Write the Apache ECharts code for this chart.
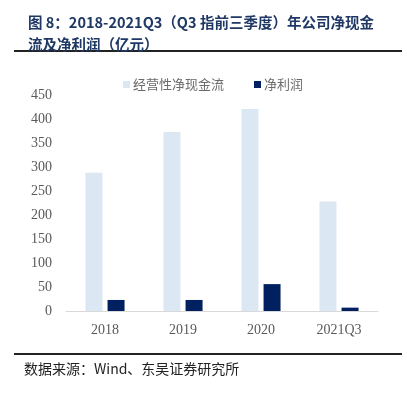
<!DOCTYPE html>
<html><head><meta charset="utf-8">
<script src="https://cdn.jsdelivr.net/npm/echarts@6/dist/echarts.min.js"></script>
<style>html,body{margin:0;padding:0;background:#fff}#c{width:407px;height:394px}</style>
</head><body><div id="c"></div>
<script>
const categories = ['2018', '2019', '2020', '2021Q3'];
const cashFlow = [288, 373, 421, 228];
const netProfit = [23, 23, 56, 7];
const yTicks = { min: 0, max: 450, interval: 50 };
const titleText = '图 8：2018-2021Q3（Q3 指前三季度）年公司净现金\n流及净利润（亿元）';
const sourceText = '数据来源：Wind、东吴证券研究所';

const chart = echarts.init(document.getElementById('c'), null, {renderer: 'canvas'});
chart.setOption({
  animation: false,
  backgroundColor: '#fff',
  title: {
    text: titleText,
    left: 23, top: 6,
    textStyle: { fontFamily: 'Noto Sans CJK SC', fontWeight: 'bold', fontSize: 14.5, color: '#1F3864', lineHeight: 22 }
  },
  graphic: [
    { type: 'rect', shape: { x: 14, y: 50, width: 388, height: 2 }, style: { fill: '#222' } },
    { type: 'rect', shape: { x: 14, y: 353, width: 388, height: 2 }, style: { fill: '#222' } },
    { type: 'text', left: 24, top: 362, style: { text: sourceText, font: '14px "Noto Sans CJK SC"', fill: '#222' } }
  ],
  legend: {
    top: 73, left: 118,
    itemWidth: 7, itemHeight: 7, itemGap: 30,
    icon: 'rect',
    textStyle: { fontFamily: 'Noto Sans CJK SC', fontSize: 13, color: '#6b6b6b', padding: [0,0,0,-2] },
    data: ['经营性净现金流', '净利润']
  },
  grid: { left: 66, right: 29, top: 95, bottom: 83 },
  xAxis: {
    type: 'category', data: categories,
    axisLine: { lineStyle: { color: '#D9D9D9', width: 1 } },
    axisTick: { show: false },
    axisLabel: { fontFamily: 'Liberation Serif', fontSize: 14, color: '#595959', margin: 12 }
  },
  yAxis: {
    type: 'value', min: yTicks.min, max: yTicks.max, interval: yTicks.interval,
    axisLine: { show: false }, axisTick: { show: false }, splitLine: { show: false },
    axisLabel: { fontFamily: 'Liberation Serif', fontSize: 14, color: '#595959', margin: 14 }
  },
  series: [
    { name: '经营性净现金流', type: 'bar', data: cashFlow, barWidth: 17, barGap: '30%', itemStyle: { color: '#DCE7F4' } },
    { name: '净利润', type: 'bar', data: netProfit, barWidth: 17, itemStyle: { color: '#002060' } }
  ]
});
</script></body></html>
